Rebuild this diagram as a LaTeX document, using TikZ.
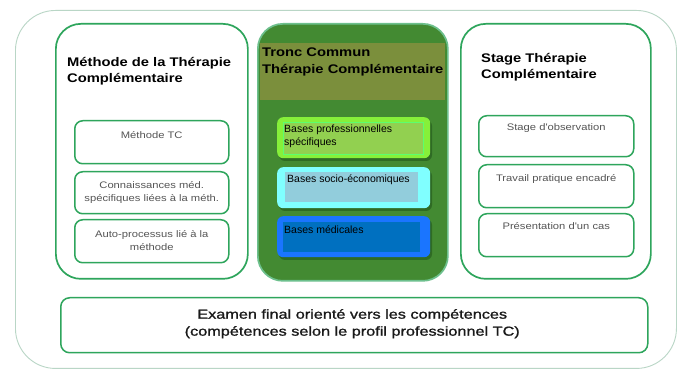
\documentclass[tikz,border=0pt]{standalone}
\usepackage{fontspec}
\setmainfont{Liberation Sans}
\newfontfamily\widefont[FakeStretch=1.18]{Liberation Sans}
\newfontfamily\examfont[FakeStretch=1.25,FakeBold=1.2]{Liberation Sans}
\definecolor{gborder}{HTML}{2EA55C}
\definecolor{outerline}{HTML}{B9D6C6}
\definecolor{centerfill}{HTML}{438A32}
\definecolor{centershadow}{HTML}{2F6B24}
\definecolor{olive}{HTML}{7B8F3C}
\definecolor{limeout}{HTML}{86F03A}
\definecolor{limein}{HTML}{92D050}
\definecolor{limeedge}{HTML}{5CFF6E}
\definecolor{cyanout}{HTML}{80FFFF}
\definecolor{cyanin}{HTML}{92CDDC}
\definecolor{blueout}{HTML}{1A75FF}
\definecolor{bluein}{HTML}{0070C0}
\definecolor{subtext}{HTML}{555555}
\begin{document}
\begin{tikzpicture}[x=1pt,y=-1pt,
  panel/.style={draw=gborder,line width=1.7pt,rounded corners=25pt,anchor=north west,inner sep=0pt},
  subbox/.style={draw=gborder,line width=1.5pt,rounded corners=8pt,anchor=north west,inner sep=0pt},
  title/.style={font=\widefont\fontsize{12.5}{16.5}\selectfont\bfseries,align=left,anchor=north west,inner sep=0pt},
  subtxt/.style={font=\widefont\fontsize{9.5}{13.5}\selectfont,text=subtext,align=center,anchor=north,inner sep=0pt},
  basebox/.style={rounded corners=6pt,anchor=north west,inner sep=0pt},
  baserect/.style={anchor=north west,inner sep=0pt},
  basetxt/.style={font=\fontsize{10.5}{12.5}\selectfont,align=left,anchor=north west,inner sep=0pt},
]
\useasboundingbox (0,0) rectangle (678,371);
\fill[white] (0,0) rectangle (678,371);
% outer frame
\node[draw=outerline,line width=0.9pt,rounded corners=40pt,anchor=north west,inner sep=0pt,
  minimum width=661pt,minimum height=358pt] (outer) at (15,10) {};
% left panel
\node[panel,minimum width=192pt,minimum height=255pt] (left) at (55,23) {};
\node[title] (lefttitle) at (67,57) {Méthode de la Thérapie\\Complémentaire};
\node[subbox,minimum width=154pt,minimum height=43pt] (l1) at (74,120) {};
\node[subbox,minimum width=154pt,minimum height=42pt] (l2) at (74,171) {};
\node[subbox,minimum width=154pt,minimum height=43pt] (l3) at (74,219) {};
\node[subtxt] (l1t) at ([yshift=-11pt]l1.north) {Méthode TC};
\node[subtxt] (l2t) at ([yshift=-10pt]l2.north) {Connaissances méd.\\spécifiques liées à la méth.};
\node[subtxt] (l3t) at ([yshift=-11pt]l3.north) {Auto-processus lié à la\\méthode};
% center panel
\node[panel,draw=gborder!70,fill=centerfill,minimum width=190pt,minimum height=257pt] (center) at (257,23) {};
\node[fill=olive,anchor=north west,inner sep=0pt,minimum width=185pt,minimum height=57pt] (band) at (260,43) {};
\node[title] (centertitle) at (262,48) {Tronc Commun\\Thérapie Complémentaire};
% base boxes with shadows
\fill[centershadow,rounded corners=6pt] (279,120) rectangle (432,161);
\fill[centershadow,rounded corners=6pt] (279,170) rectangle (432,211);
\fill[centershadow,rounded corners=6pt] (279,219) rectangle (432,260);
\node[basebox,fill=limeout,minimum width=153pt,minimum height=41pt] (b1) at (277,117) {};
\node[baserect,fill=limein,draw=limeedge,line width=0.6pt,minimum width=140pt,minimum height=32pt] (b1r) at (283,122) {};
\node[basetxt] (b1t) at (284,125) {Bases professionnelles\\spécifiques};
\node[basebox,fill=cyanout,minimum width=153pt,minimum height=41pt] (b2) at (277,167) {};
\node[baserect,fill=cyanin,minimum width=133pt,minimum height=30pt] (b2r) at (285,172) {};
\node[basetxt] (b2t) at (287,175) {Bases socio-économiques};
\node[basebox,fill=blueout,minimum width=153pt,minimum height=41pt] (b3) at (277,216) {};
\node[baserect,fill=bluein,minimum width=137pt,minimum height=30pt] (b3r) at (283,222) {};
\node[basetxt] (b3t) at (284,226) {Bases médicales};
% right panel
\node[panel,minimum width=190pt,minimum height=255pt] (right) at (460,23) {};
\node[title] (righttitle) at (481,53) {Stage Thérapie\\Complémentaire};
\node[subbox,minimum width=155pt,minimum height=41pt] (r1) at (478,115) {};
\node[subbox,minimum width=155pt,minimum height=43pt] (r2) at (478,164) {};
\node[subbox,minimum width=155pt,minimum height=43pt] (r3) at (478,213) {};
\node[subtxt] (r1t) at ([yshift=-8pt]r1.north) {Stage d'observation};
\node[subtxt] (r2t) at ([yshift=-10pt]r2.north) {Travail pratique encadré};
\node[subtxt] (r3t) at ([yshift=-9pt]r3.north) {Présentation d'un cas};
% bottom box
\node[subbox,rounded corners=9pt,minimum width=587pt,minimum height=55pt] (exam) at (60,297) {};
\node[font=\examfont\fontsize{13}{17}\selectfont,align=center,inner sep=0pt,text=black!90] (examt) at ([xshift=-2pt,yshift=1.5pt]exam.center)
  {Examen final orienté vers les compétences\\(compétences selon le profil professionnel TC)};
\end{tikzpicture}
\end{document}
